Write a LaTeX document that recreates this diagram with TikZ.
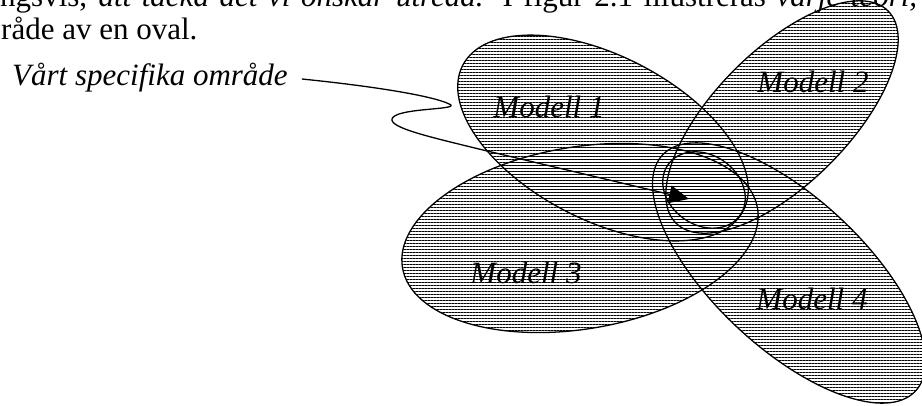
\documentclass[tikz,border=0pt]{standalone}
\usepackage{fontspec}
\setmainfont{Liberation Serif}
\usetikzlibrary{patterns.meta,arrows.meta,calc}
\begin{document}
\begin{tikzpicture}[x=1pt,y=-1pt,
  hatch/.style={pattern={Lines[angle=0,distance=3pt,line width=0.8pt]}},
  outline/.style={draw=black,line width=1.3pt},
  txt/.style={font=\fontsize{31}{36}\selectfont, inner sep=0pt},
  lbl/.style={font=\fontsize{31}{36}\selectfont\itshape, inner sep=0pt, anchor=base}]
\useasboundingbox (0,0) rectangle (922,405);
\clip (0,0) rectangle (922,405);
% fills
\fill[hatch, rotate around={-27.4:(603,138)}] (603,138) ellipse [x radius=158, y radius=82];
\fill[hatch, rotate around={45:(782,117)}] (782,117) ellipse [x radius=150, y radius=67];
\fill[hatch, rotate around={9.5:(580,238)}] (580,238) ellipse [x radius=180, y radius=91];
\fill[hatch, rotate around={-43:(789,273)}] (789,273) ellipse [x radius=173, y radius=75];
% outlines
\draw[outline, rotate around={-27.4:(603,138)}] (603,138) ellipse [x radius=158, y radius=82];
\draw[outline, rotate around={45:(782,117)}] (782,117) ellipse [x radius=150, y radius=67];
\draw[outline, rotate around={9.5:(580,238)}] (580,238) ellipse [x radius=180, y radius=91];
\draw[outline, rotate around={-43:(789,273)}] (789,273) ellipse [x radius=173, y radius=75];
\draw[outline, rotate around={-35:(704,190)}] (704,190) ellipse [x radius=44, y radius=35];
% texts
\node[txt, anchor=base west] (line1) at (0,6) {\makebox[917pt][s]{ngsvis, \textit{att täcka det vi önskar utreda.} I figur 2.1 illustreras \textit{varje teori,}}};
\node[txt, anchor=base west] (line2) at (1,39) {råde av en oval.};
\node[lbl, anchor=base west] (area) at (12,85) {Vårt specifika område};
\node[lbl] (m1) at (549,117) {Modell 1};
\node[lbl] (m2) at (813,92) {Modell 2};
\node[lbl] (m3) at (526,283) {Modell 3};
\node[lbl] (m4) at (812,309) {Modell 4};
\coordinate (tip) at (689,199);
\draw[outline, -{Triangle[length=20pt,width=18pt]}]
  ($(area.base east)+(14,-6)$) .. controls (390,88) and (440,98) .. (451,105)
  .. controls (455,110) and (395,108) .. (392,119)
  .. controls (390,128) and (430,137) .. (483,150) -- (tip);
\end{tikzpicture}
\end{document}
